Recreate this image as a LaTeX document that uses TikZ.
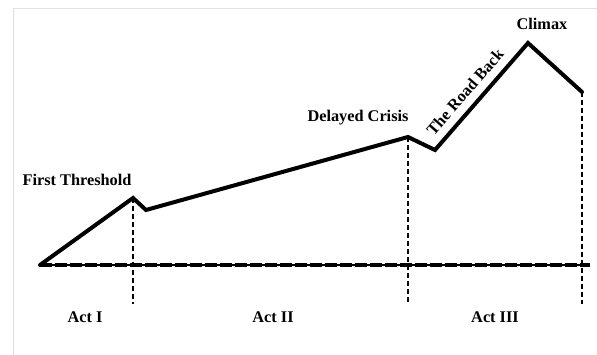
\documentclass[tikz,border=0pt]{standalone}
\usepackage{fontspec}
\setmainfont{Liberation Serif}
\begin{document}
\begin{tikzpicture}[x=1pt,y=-1pt,
  plot/.style={line width=4pt,line join=miter,line cap=round},
  base/.style={line width=2.8pt},
  guide/.style={line width=1.8pt,dash pattern=on 5pt off 3pt},
  lab/.style={font=\bfseries\fontsize{16.3}{16.3}\selectfont,inner sep=0pt},
  frame/.style={draw=black!12,line width=1pt}]
\useasboundingbox (0,0) rectangle (597,355);
\fill[white] (0,0) rectangle (597,355);
\draw[frame] (13,355) -- (13,9) -- (597,9);
% key points
\coordinate (s) at (40,265);
\coordinate (ft) at (133,198);
\coordinate (d1) at (146,210);
\coordinate (dc) at (408,137);
\coordinate (d2) at (435,150);
\coordinate (cl) at (528,43);
\coordinate (e) at (582,92);
\coordinate (be) at (590,265);
\coordinate (g1) at (133,304);
\coordinate (g2) at (408,304);
\coordinate (g3) at (582,304);
% baseline
\draw[base] (s) -- (be);
\draw[line width=3.3pt,dash pattern=on 12pt off 3pt] (s) -- (be);
% guides
\draw[guide] (ft) -- (g1);
\draw[guide] (dc) -- (g2);
\draw[guide] (e) -- (g3);
% story line
\draw[plot] (s) -- (ft) -- (d1) -- (dc) -- (d2) -- (cl) -- (e);
% labels
\node[lab] (lft) at (77,180) {First Threshold};
\node[lab] (ldc) at (358,118) {Delayed Crisis};
\node[lab,rotate=49] (lrb) at (465,92) {The Road Back};
\node[lab] (lcl) at (542,24) {Climax};
\node[lab] (a1) at (85,317) {Act I};
\node[lab] (a2) at (273,317) {Act II};
\node[lab] (a3) at (495,317) {Act III};
\end{tikzpicture}
\end{document}
